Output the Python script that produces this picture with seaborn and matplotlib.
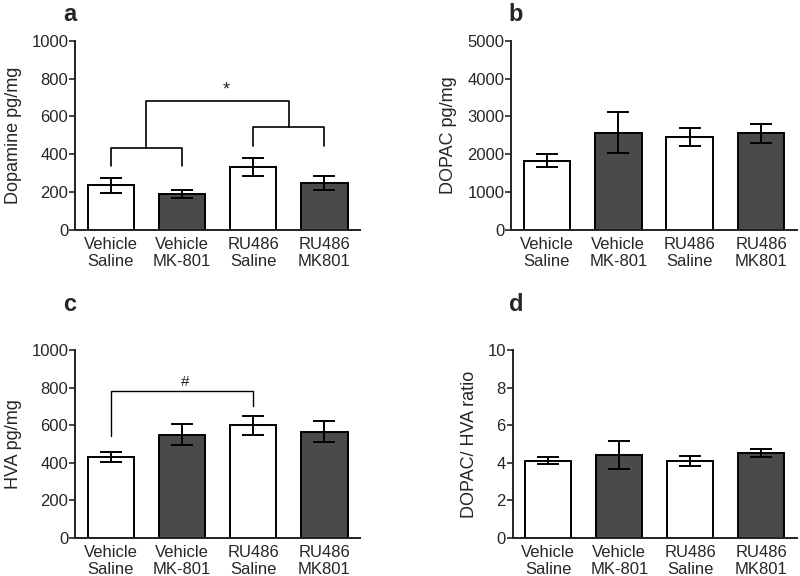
import pandas as pd
import matplotlib.pyplot as plt
import seaborn as sns

groups = ["Vehicle\nSaline", "Vehicle\nMK-801", "RU486\nSaline", "RU486\nMK801"]
fills = ["white", "#4a4a4a", "white", "#4a4a4a"]

dopamine = [235, 188, 333, 248]
dopamine_err = [38, 22, 48, 35]

dopac = [1830, 2570, 2460, 2550]
dopac_err = [180, 550, 230, 240]

hva = [433, 550, 600, 567]
hva_err = [27, 55, 50, 57]

ratio = [4.12, 4.42, 4.10, 4.52]
ratio_err = [0.20, 0.72, 0.25, 0.20]

sns.set_style("ticks")
plt.rcParams["font.family"] = ["Liberation Sans", "DejaVu Sans"]

fig = plt.figure(figsize=(8, 5.76), dpi=100)

# letter, axes box, values, errors, y label, y max, tick step, letter position
panels = [
    ("a", [0.094, 0.601, 0.356, 0.328], dopamine, dopamine_err, "Dopamine pg/mg", 1000, 200, (0.079, 0.974)),
    ("b", [0.639, 0.601, 0.357, 0.328], dopac, dopac_err, "DOPAC pg/mg", 5000, 1000, (0.636, 0.974)),
    ("c", [0.094, 0.066, 0.356, 0.326], hva, hva_err, "HVA pg/mg", 1000, 200, (0.079, 0.471)),
    ("d", [0.641, 0.066, 0.355, 0.326], ratio, ratio_err, "DOPAC/ HVA ratio", 10, 2, (0.636, 0.471)),
]

axes = {}
for letter, pos, vals, errs, ylab, ymax, step, lpos in panels:
    ax = fig.add_axes(pos)
    df = pd.DataFrame({"group": groups, "value": vals})
    sns.barplot(data=df, x="group", y="value", hue="group", palette=fills,
                legend=False, width=0.65, edgecolor="black", linewidth=1.4,
                errorbar=None, ax=ax)
    ax.errorbar(range(len(vals)), vals, yerr=errs, fmt="none", ecolor="black",
                elinewidth=1.4, capsize=8, capthick=1.4)
    ax.set_xlim(-0.5, 3.5)
    ax.set_ylim(0, ymax)
    ax.set_yticks(range(0, ymax + 1, step))
    ax.set_xlabel("")
    ax.set_ylabel(ylab, fontsize=13, labelpad=7)
    ax.tick_params(axis="y", labelsize=12, length=4, width=1.2, pad=1)
    ax.tick_params(axis="x", labelsize=12, length=0, pad=5)
    for lab in ax.get_xticklabels():
        lab.set_linespacing(1.2)
    for s in ["left", "bottom"]:
        ax.spines[s].set_linewidth(1.4)
        ax.spines[s].set_color("#222222")
    sns.despine(ax=ax)
    fig.text(lpos[0], lpos[1], letter, fontsize=17, fontweight="bold",
             ha="left", va="center")
    axes[letter] = ax

# significance brackets, panel a
ax = axes["a"]
kw = dict(color="black", lw=1.2)
ax.plot([0, 0, 1, 1], [340, 435, 435, 340], **kw)
ax.plot([2, 2, 3, 3], [446, 545, 545, 446], **kw)
ax.plot([0.5, 0.5, 2.5, 2.5], [435, 683, 683, 545], **kw)
ax.text(1.62, 740, "*", ha="center", va="center", fontsize=13)

# significance bracket, panel c
ax = axes["c"]
ax.plot([0, 0, 2, 2], [543, 785, 785, 702], color="black", lw=1.0)
ax.text(1.05, 830, "#", ha="center", va="center", fontsize=11)

fig.savefig("out.png", dpi=100)
plt.close()
